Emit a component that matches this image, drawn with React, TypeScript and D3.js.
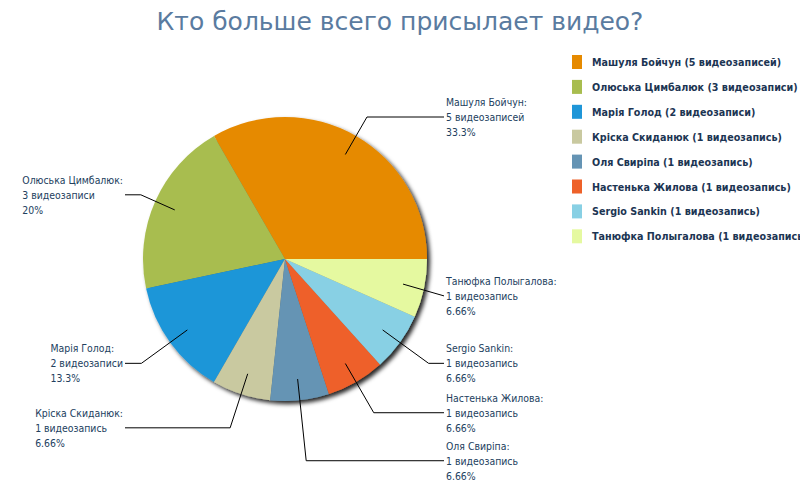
import { useEffect, useRef } from "react";
import * as d3 from "d3";

const TITLE = "Кто больше всего присылает видео?";
const NAMES = [
  "Машуля Бойчун",
  "Олюська Цимбалюк",
  "Марія Голод",
  "Кріска Скиданюк",
  "Оля Свиріпа",
  "Настенька Жилова",
  "Sergio Sankin",
  "Танюфка Полыгалова",
];
const COUNTS = [5, 3, 2, 1, 1, 1, 1, 1];
const COLORS = [
  "#e68a00",
  "#a8bd4f",
  "#1f96d8",
  "#c9c9a0",
  "#6594b4",
  "#ee6129",
  "#88d0e4",
  "#e5f9a0",
];

const W = 800;
const H = 500;
const CX = 285;
const CY = 259;
const R = 142;
const TEXT_COLOR = "#22405e";
const LABEL_FONT = "'DejaVu Sans Condensed', 'DejaVu Sans', sans-serif";
const LEGEND_FONT = "Verdana, 'DejaVu Sans', sans-serif";

function videoWord(n: number): string {
  const m10 = n % 10;
  const m100 = n % 100;
  if (m10 === 1 && m100 !== 11) return "видеозапись";
  if (m10 >= 2 && m10 <= 4 && (m100 < 12 || m100 > 14)) return "видеозаписи";
  return "видеозаписей";
}

// 3 significant digits, truncated (6.666 -> 6.66)
function pct(p: number): string {
  const digits = Math.floor(Math.log10(p)) + 1;
  const f = Math.pow(10, 3 - digits);
  return `${Math.floor(p * f + 1e-9) / f}%`;
}

interface Label {
  i: number;
  a: number;
  right: boolean;
  y: number;
}

export default function App() {
  const svgRef = useRef<SVGSVGElement>(null);

  useEffect(() => {
    document.body.style.margin = "0";
    if (!svgRef.current) return;
    const svg = d3.select(svgRef.current);
    svg.selectAll("*").remove();

    const defs = svg.append("defs");
    const filter = defs
      .append("filter")
      .attr("id", "pieShadow")
      .attr("x", "-20%")
      .attr("y", "-20%")
      .attr("width", "140%")
      .attr("height", "140%");
    filter
      .append("feDropShadow")
      .attr("dx", 3)
      .attr("dy", 3)
      .attr("stdDeviation", 2)
      .attr("flood-color", "#000")
      .attr("flood-opacity", 0.85);

    svg
      .append("text")
      .attr("x", 400)
      .attr("y", 30)
      .attr("text-anchor", "middle")
      .attr("fill", "#5a7ba0")
      .attr("font-family", "Tahoma, 'DejaVu Sans', sans-serif")
      .attr("font-size", 25)
      .text(TITLE);

    const total = d3.sum(COUNTS);
    const pie = d3
      .pie<number>()
      .sort(null)
      .startAngle(Math.PI / 2)
      .endAngle(Math.PI / 2 - 2 * Math.PI);
    const arcs = pie(COUNTS);
    const arc = d3.arc<d3.PieArcDatum<number>>().innerRadius(0).outerRadius(R);

    const g = svg.append("g").attr("transform", `translate(${CX},${CY})`);
    g.append("g")
      .attr("filter", "url(#pieShadow)")
      .selectAll("path")
      .data(arcs)
      .join("path")
      .attr("d", arc)
      .attr("fill", (_d, i) => COLORS[i]);

    // label layout
    const labels: Label[] = arcs.map((d, i) => {
      const a = (d.startAngle + d.endAngle) / 2;
      const up = Math.cos(a) > 0;
      let y = CY - Math.cos(a) * R * 1.25 + (up ? 8 : 0);
      y = Math.max(y, CY - R);
      return { i, a, right: Math.sin(a) > 0, y };
    });
    const gap = 48;
    [true, false].forEach((side) => {
      const list = labels.filter((l) => l.right === side).sort((p, q) => p.y - q.y);
      for (let k = 1; k < list.length; k++) {
        if (list[k].y - list[k - 1].y < gap) list[k].y = list[k - 1].y + gap;
      }
    });

    const rightX = CX + R + 19;
    const leftEdge = CX - R - 20;
    const lg = svg.append("g");

    labels.forEach((l) => {
      const sx = CX + Math.sin(l.a) * R * 0.85;
      const sy = CY - Math.cos(l.a) * R * 0.85;
      const dirx = Math.sin(l.a);
      const diry = -Math.cos(l.a);
      const t = (l.y - sy) / diry;
      const ex = sx + dirx * t;
      const endX = l.right ? rightX - 2 : leftEdge + 2;
      const pts: [number, number][] = [[sx, sy]];
      if ((l.right && ex < endX) || (!l.right && ex > endX)) {
        pts.push([ex, l.y]);
      }
      pts.push([endX, l.y]);
      lg.append("path")
        .attr("d", d3.line()(pts))
        .attr("fill", "none")
        .attr("stroke", "#000")
        .attr("stroke-width", 1);

      const lines = [
        `${NAMES[l.i]}:`,
        `${COUNTS[l.i]} ${videoWord(COUNTS[l.i])}`,
        pct((COUNTS[l.i] / total) * 100),
      ];
      const txt = lg
        .append("text")
        .attr("fill", TEXT_COLOR)
        .attr("font-family", LABEL_FONT)
        .attr("font-size", 10.4);
      lines.forEach((s, k) => {
        txt
          .append("tspan")
          .attr("x", 0)
          .attr("y", l.y + 4 + (k - 1) * 15)
          .text(s);
      });
      let x = rightX;
      if (!l.right) {
        const w = (txt.node() as SVGTextElement).getBBox().width;
        x = leftEdge - w;
      }
      txt.selectAll("tspan").attr("x", x);
    });

    // legend
    const leg = svg
      .append("g")
      .selectAll("g")
      .data(NAMES)
      .join("g")
      .attr("transform", (_d, i) => `translate(572,${62 + i * 24.9})`);
    leg
      .append("rect")
      .attr("x", 0)
      .attr("y", -7)
      .attr("width", 10)
      .attr("height", 14)
      .attr("fill", (_d, i) => COLORS[i]);
    leg
      .append("text")
      .attr("x", 20)
      .attr("y", 4)
      .attr("fill", "#1c3553")
      .attr("font-family", LEGEND_FONT)
      .attr("font-weight", "bold")
      .attr("font-size", 9.6)
      .text((d, i) => `${d} (${COUNTS[i]} ${videoWord(COUNTS[i])})`);
  }, []);

  return <svg ref={svgRef} width={W} height={H} style={{ display: "block", background: "#fff" }} />;
}
